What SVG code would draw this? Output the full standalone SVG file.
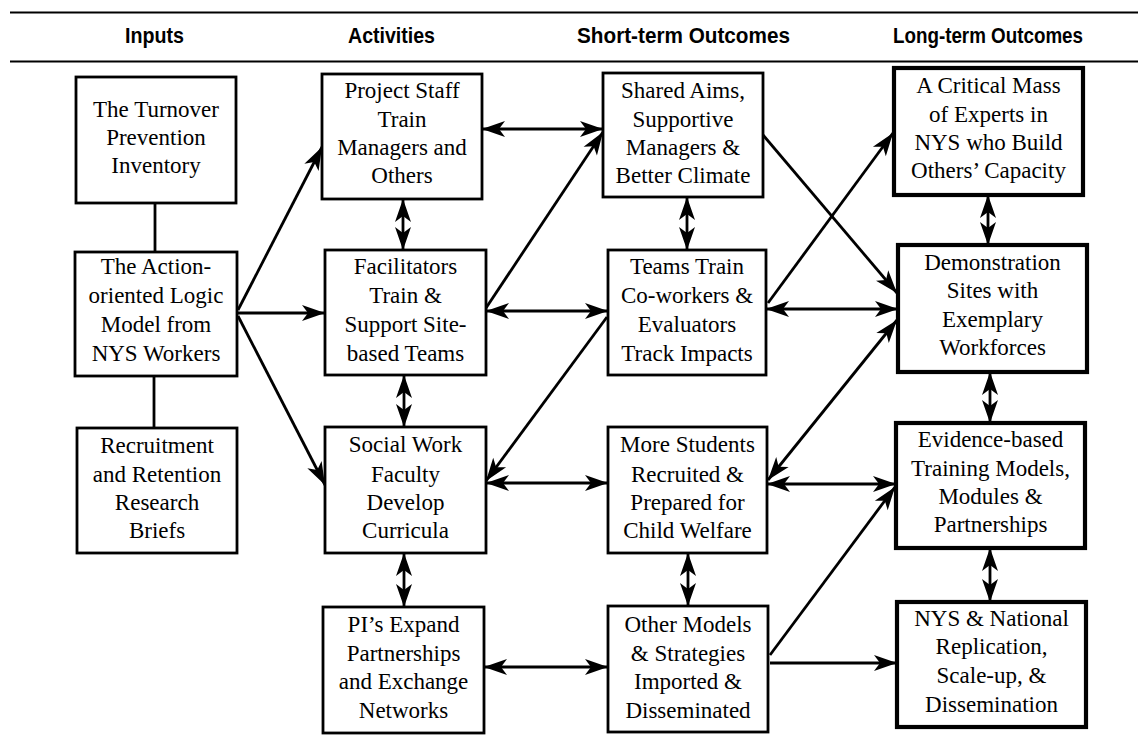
<svg xmlns="http://www.w3.org/2000/svg" width="1138" height="755" viewBox="0 0 1138 755">
<style>
.hd{font-family:"Liberation Sans Narrow","Liberation Sans",Arial,sans-serif;font-weight:bold;font-size:22px;text-anchor:middle;fill:#000}
.bx{fill:#fff;stroke:#000;stroke-width:2.8}
.bx4{fill:#fff;stroke:#000;stroke-width:4.2}
.t{font-family:"Liberation Serif","Times New Roman",serif;font-size:23px;text-anchor:middle;fill:#000}
.ln{stroke:#000;stroke-width:2.8;fill:none}
.a1{stroke:#000;stroke-width:2.8;fill:none;marker-end:url(#ah)}
.a2{stroke:#000;stroke-width:2.8;fill:none;marker-start:url(#ah);marker-end:url(#ah)}
</style>
<defs>
<marker id="ah" markerUnits="userSpaceOnUse" markerWidth="24" markerHeight="16" refX="23" refY="8" orient="auto-start-reverse" overflow="visible">
<path d="M0,0 L23,8 L0,16 L6,8 Z" fill="#000"/>
</marker>
</defs>
<rect width="1138" height="755" fill="#fff"/>
<g id="header">
<line x1="10" y1="12.5" x2="1138" y2="12.5" stroke="#000" stroke-width="2"/>
<line x1="10" y1="61.5" x2="1138" y2="61.5" stroke="#000" stroke-width="2"/>
<text class="hd" x="154.5" y="43" textLength="59" lengthAdjust="spacingAndGlyphs">Inputs</text>
<text class="hd" x="391.5" y="43" textLength="87" lengthAdjust="spacingAndGlyphs">Activities</text>
<text class="hd" x="683.5" y="43" textLength="213" lengthAdjust="spacingAndGlyphs">Short-term Outcomes</text>
<text class="hd" x="988" y="43" textLength="190" lengthAdjust="spacingAndGlyphs">Long-term Outcomes</text>
</g>
<g id="connectors">
<line class="ln" x1="155" y1="203" x2="155" y2="252"/>
<line class="ln" x1="154" y1="376" x2="154" y2="428"/>
<line class="a1" x1="238" y1="310" x2="322" y2="147"/>
<line class="a1" x1="238" y1="313" x2="325" y2="313"/>
<line class="a1" x1="238" y1="316" x2="325" y2="485"/>
<line class="a2" x1="482" y1="129" x2="603" y2="129"/>
<line class="a2" x1="486" y1="311" x2="608" y2="311"/>
<line class="a1" x1="486" y1="308" x2="603" y2="132"/>
<line class="a1" x1="607" y1="317" x2="486" y2="481"/>
<line class="a2" x1="486" y1="483" x2="608" y2="483"/>
<line class="a2" x1="484" y1="667" x2="608" y2="667"/>
<line class="a2" x1="403" y1="199" x2="403" y2="250"/>
<line class="a2" x1="404" y1="375" x2="404" y2="427"/>
<line class="a2" x1="404" y1="553" x2="404" y2="607"/>
<line class="a2" x1="687" y1="197" x2="687" y2="250"/>
<line class="a2" x1="688" y1="553" x2="688" y2="606"/>
<line class="a1" x1="763" y1="135" x2="897" y2="293"/>
<line class="a1" x1="768" y1="303" x2="893" y2="133"/>
<line class="a2" x1="766" y1="309" x2="898" y2="309"/>
<line class="a2" x1="768" y1="480" x2="897" y2="320"/>
<line class="a2" x1="767" y1="484" x2="896" y2="484"/>
<line class="a1" x1="770" y1="655" x2="895" y2="487"/>
<line class="a1" x1="770" y1="663" x2="897" y2="663"/>
<line class="a2" x1="988" y1="195" x2="988" y2="245"/>
<line class="a2" x1="990" y1="372" x2="990" y2="423"/>
<line class="a2" x1="990" y1="548" x2="990" y2="602"/>
</g>
<g id="n-turnover">
<rect class="bx" x="76" y="77" width="160" height="126"/>
<text class="t" x="156" y="117">The Turnover</text>
<text class="t" x="156" y="145">Prevention</text>
<text class="t" x="156" y="173">Inventory</text>
</g>
<g id="n-action">
<rect class="bx" x="75" y="252" width="162" height="124"/>
<text class="t" x="156" y="274">The Action-</text>
<text class="t" x="156" y="303">oriented Logic</text>
<text class="t" x="156" y="332">Model from</text>
<text class="t" x="156" y="361">NYS Workers</text>
</g>
<g id="n-recruitment">
<rect class="bx" x="77" y="428" width="160" height="125"/>
<text class="t" x="157" y="453">Recruitment</text>
<text class="t" x="157" y="482">and Retention</text>
<text class="t" x="157" y="510">Research</text>
<text class="t" x="157" y="538">Briefs</text>
</g>
<g id="n-project">
<rect class="bx" x="322" y="74" width="160" height="125"/>
<text class="t" x="402" y="98">Project Staff</text>
<text class="t" x="402" y="127">Train</text>
<text class="t" x="402" y="155">Managers and</text>
<text class="t" x="402" y="183">Others</text>
</g>
<g id="n-facilitators">
<rect class="bx" x="325" y="250" width="161" height="125"/>
<text class="t" x="405.5" y="274">Facilitators</text>
<text class="t" x="405.5" y="303">Train &amp;</text>
<text class="t" x="405.5" y="332">Support Site-</text>
<text class="t" x="405.5" y="361">based Teams</text>
</g>
<g id="n-social">
<rect class="bx" x="325" y="427" width="161" height="126"/>
<text class="t" x="405.5" y="452">Social Work</text>
<text class="t" x="405.5" y="482">Faculty</text>
<text class="t" x="405.5" y="510">Develop</text>
<text class="t" x="405.5" y="538">Curricula</text>
</g>
<g id="n-pi">
<rect class="bx" x="323" y="607" width="161" height="126"/>
<text class="t" x="403.5" y="632">PI’s Expand</text>
<text class="t" x="403.5" y="661">Partnerships</text>
<text class="t" x="403.5" y="689">and Exchange</text>
<text class="t" x="403.5" y="718">Networks</text>
</g>
<g id="n-shared">
<rect class="bx" x="603" y="73" width="160" height="124"/>
<text class="t" x="683" y="98">Shared Aims,</text>
<text class="t" x="683" y="127">Supportive</text>
<text class="t" x="683" y="155">Managers &amp;</text>
<text class="t" x="683" y="183">Better Climate</text>
</g>
<g id="n-teams">
<rect class="bx" x="608" y="250" width="158" height="125"/>
<text class="t" x="687" y="274">Teams Train</text>
<text class="t" x="687" y="303">Co-workers &amp;</text>
<text class="t" x="687" y="332">Evaluators</text>
<text class="t" x="687" y="361">Track Impacts</text>
</g>
<g id="n-more">
<rect class="bx" x="608" y="427" width="159" height="126"/>
<text class="t" x="687.5" y="452">More Students</text>
<text class="t" x="687.5" y="482">Recruited &amp;</text>
<text class="t" x="687.5" y="510">Prepared for</text>
<text class="t" x="687.5" y="538">Child Welfare</text>
</g>
<g id="n-other">
<rect class="bx" x="608" y="606" width="160" height="126"/>
<text class="t" x="688" y="632">Other Models</text>
<text class="t" x="688" y="661">&amp; Strategies</text>
<text class="t" x="688" y="689">Imported &amp;</text>
<text class="t" x="688" y="718">Disseminated</text>
</g>
<g id="n-critical">
<rect class="bx4" x="894" y="68" width="189" height="127"/>
<text class="t" x="988.5" y="93">A Critical Mass</text>
<text class="t" x="988.5" y="122">of Experts in</text>
<text class="t" x="988.5" y="150">NYS who Build</text>
<text class="t" x="988.5" y="178">Others’ Capacity</text>
</g>
<g id="n-demo">
<rect class="bx4" x="898" y="245" width="189" height="127"/>
<text class="t" x="992.5" y="270">Demonstration</text>
<text class="t" x="992.5" y="298">Sites with</text>
<text class="t" x="992.5" y="327">Exemplary</text>
<text class="t" x="992.5" y="355">Workforces</text>
</g>
<g id="n-evidence">
<rect class="bx4" x="896" y="423" width="189" height="125"/>
<text class="t" x="990.5" y="447">Evidence-based</text>
<text class="t" x="990.5" y="476">Training Models,</text>
<text class="t" x="990.5" y="504">Modules &amp;</text>
<text class="t" x="990.5" y="532">Partnerships</text>
</g>
<g id="n-nys">
<rect class="bx4" x="897" y="602" width="189" height="125"/>
<text class="t" x="991.5" y="626">NYS &amp; National</text>
<text class="t" x="991.5" y="654">Replication,</text>
<text class="t" x="991.5" y="683">Scale-up, &amp;</text>
<text class="t" x="991.5" y="712">Dissemination</text>
</g>
</svg>
